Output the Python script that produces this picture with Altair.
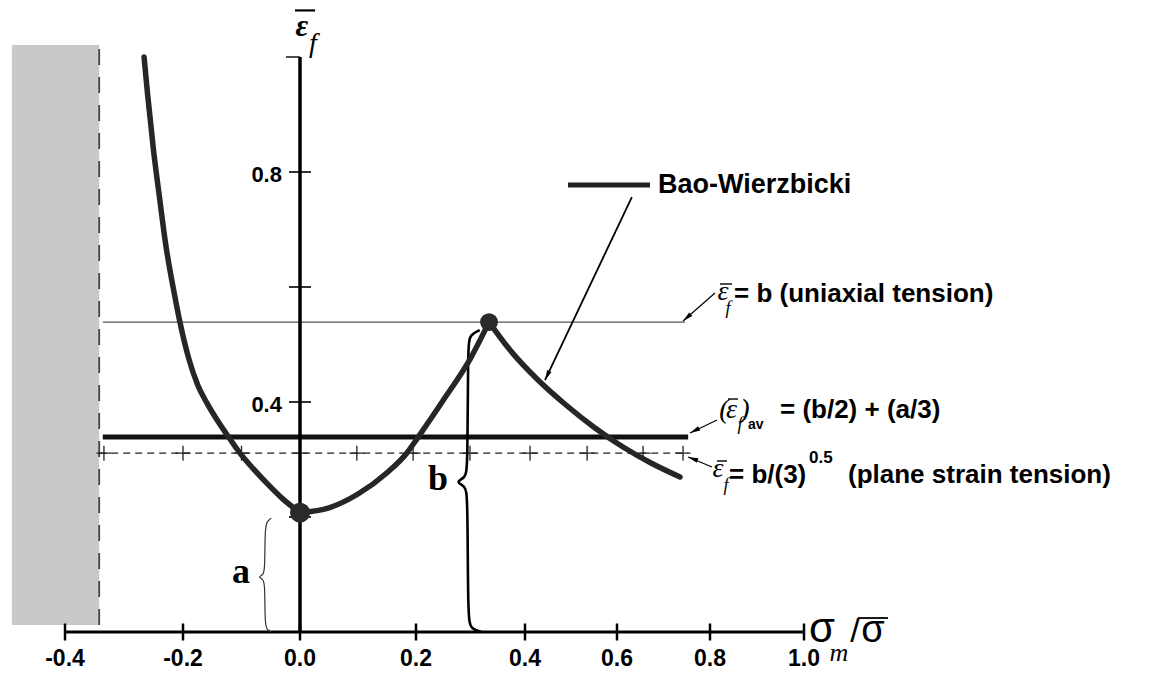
import altair as alt
import pandas as pd

# ---------------- data ----------------
x_ticks = [-0.4, -0.2, 0.0, 0.2, 0.4, 0.6, 0.8, 1.0]
x_tick_labels = ["-0.4", "-0.2", "0.0", "0.2", "0.4", "0.6", "0.8", "1.0"]
y_ticks = [0.2, 0.4, 0.6, 0.8]
y_label_values = [0.4, 0.8]
y_tick_labels = ["0.4", "0.8"]

left_eta = [-0.266, -0.26, -0.25, -0.24, -0.229, -0.215, -0.205, -0.19, -0.175,
            -0.159, -0.14, -0.12, -0.1026, -0.08, -0.056, -0.03, 0.0]
left_eps = [1.0, 0.935, 0.838, 0.757, 0.672, 0.59, 0.538, 0.475, 0.43,
            0.398, 0.366, 0.336, 0.311, 0.284, 0.258, 0.232, 0.2075]
mid_eta = [0.0, 0.05, 0.1, 0.15, 0.184, 0.204, 0.25, 0.3, 0.334]
mid_eps = [0.2075, 0.216, 0.24, 0.277, 0.311, 0.339, 0.403, 0.476, 0.539]
right_eta = [0.334, 0.3725, 0.4283, 0.4891, 0.5522, 0.6129, 0.6731, 0.7355]
right_eps = [0.539, 0.4904, 0.4383, 0.3948, 0.3548, 0.3217, 0.2939, 0.2696]

a_val = 0.2075       # strain at eta = 0
b_val = 0.539        # strain at eta = 1/3 (uniaxial tension)
avg_val = 0.339      # (b/2) + (a/3)
ps_val = 0.311       # b / sqrt(3)
line_start = -0.336
uni_end = 0.746
avg_end = 0.753
ps_end = 0.753
ps_marks = [-0.334, -0.2, -0.1, 0.0, 0.098, 0.195, 0.299, 0.411, 0.535, 0.656, 0.742]

cutoff = -0.342
shade_left, shade_bottom, shade_top = -0.49, 0.012, 1.021

b_brace_x = [0.317, 0.299, 0.295, 0.295, 0.290, 0.272, 0.290, 0.295, 0.295, 0.301, 0.321]
b_brace_y = [0.525, 0.517, 0.499, 0.282, 0.268, 0.261, 0.254, 0.240, 0.021, 0.005, 0.0]
a_brace_x = [-0.049, -0.056, -0.060, -0.060, -0.063, -0.072, -0.063, -0.060, -0.060, -0.056, -0.049]
a_brace_y = [0.198, 0.193, 0.181, 0.108, 0.099, 0.0957, 0.092, 0.0835, 0.012, 0.0035, 0.0]

# arrows: start (x1,y1) -> tip (x2,y2), heading of the tip in degrees
arrow_x1 = [0.632, 0.8106, 0.8150, 0.8043]
arrow_y1 = [0.7565, 0.5896, 0.3687, 0.287]
arrow_x2 = [0.4435, 0.742, 0.757, 0.7527]
arrow_y2 = [0.438, 0.541, 0.346, 0.3043]
arrow_ang = [205, 229, 243, 290]

legend_x, legend_x2, legend_y = 0.4935, 0.671, 0.7774

SANS = "Liberation Sans"
SERIF = "Liberation Serif"

W, H = 1138, 620
x_range = [57, 175, 292, 408, 517, 609, 702, 796]
xs = alt.Scale(domain=x_ticks, range=x_range, nice=False, zero=False)
ys = alt.Scale(domain=[0, H / 575], nice=False, zero=False)


def X():
    return alt.X("x:Q", scale=xs, axis=None)


def Y():
    return alt.Y("y:Q", scale=ys, axis=None)


X2 = alt.X2(field="x2")
Y2 = alt.Y2(field="y2")

layers = []

# shaded excluded region and its dashed border
layers.append(
    alt.Chart(pd.DataFrame({"x": [shade_left], "x2": [cutoff], "y": [shade_bottom], "y2": [shade_top]}))
    .mark_rect(color="#c9c9c9")
    .encode(x=X(), x2=X2, y=Y(), y2=Y2)
)
layers.append(
    alt.Chart(pd.DataFrame({"x": [cutoff], "y": [shade_bottom], "y2": [shade_top]}))
    .mark_rule(color="#444", strokeWidth=1.8, strokeDash=[16, 12])
    .encode(x=X(), y=Y(), y2=Y2)
)

# horizontal reference lines
layers.append(
    alt.Chart(pd.DataFrame({"x": [line_start], "x2": [uni_end], "y": [b_val]}))
    .mark_rule(color="#555", strokeWidth=1.3)
    .encode(x=X(), x2=X2, y=Y())
)
layers.append(
    alt.Chart(pd.DataFrame({"x": [line_start], "x2": [avg_end], "y": [avg_val]}))
    .mark_rule(color="#111", strokeWidth=5)
    .encode(x=X(), x2=X2, y=Y())
)
layers.append(
    alt.Chart(pd.DataFrame({"x": [cutoff], "x2": [ps_end], "y": [ps_val]}))
    .mark_rule(color="#222", strokeWidth=1.3, strokeDash=[7, 5])
    .encode(x=X(), x2=X2, y=Y())
)
layers.append(
    alt.Chart(pd.DataFrame({"x": ps_marks, "y": [ps_val] * len(ps_marks)}))
    .mark_point(shape="M-1,0L1,0M0,-1L0,1", size=225, filled=False, color="#222", strokeWidth=1.3, opacity=1)
    .encode(x=X(), y=Y())
)

# axes (lines, ticks)
layers.append(
    alt.Chart(pd.DataFrame({"x": [x_ticks[0]], "x2": [x_ticks[-1]], "y": [0.0]}))
    .mark_rule(color="black", strokeWidth=3)
    .encode(x=X(), x2=X2, y=Y())
)
layers.append(
    alt.Chart(pd.DataFrame({"x": [0.0], "y": [0.0], "y2": [1.0]}))
    .mark_rule(color="black", strokeWidth=3.5)
    .encode(x=X(), y=Y(), y2=Y2)
)
layers.append(
    alt.Chart(pd.DataFrame({"x": x_ticks, "y": [0.0] * len(x_ticks)}))
    .mark_tick(orient="vertical", size=17, thickness=2.5, color="black", opacity=1)
    .encode(x=X(), y=Y())
)
layers.append(
    alt.Chart(pd.DataFrame({"x": [0.0] * len(y_ticks), "y": y_ticks}))
    .mark_tick(orient="horizontal", size=22, thickness=1.6, color="black", opacity=1)
    .encode(x=X(), y=Y())
)
layers.append(
    alt.Chart(pd.DataFrame({"x": [0.0], "y": [1.0]}))
    .mark_tick(orient="horizontal", size=14, thickness=1.4, color="black", opacity=1, xOffset=-7)
    .encode(x=X(), y=Y())
)

# braces a and b
layers.append(
    alt.Chart(pd.DataFrame({"x": a_brace_x, "y": a_brace_y, "i": list(range(len(a_brace_x)))}))
    .mark_line(color="#333", strokeWidth=1.2, interpolate="basis")
    .encode(x=X(), y=Y(), order=alt.Order(field="i", type="quantitative"))
)
layers.append(
    alt.Chart(pd.DataFrame({"x": b_brace_x, "y": b_brace_y, "i": list(range(len(b_brace_x)))}))
    .mark_line(color="black", strokeWidth=2.6, interpolate="basis")
    .encode(x=X(), y=Y(), order=alt.Order(field="i", type="quantitative"))
)

# fracture locus
curve = pd.DataFrame({
    "x": left_eta + mid_eta + right_eta,
    "y": left_eps + mid_eps + right_eps,
    "seg": ["left"] * len(left_eta) + ["mid"] * len(mid_eta) + ["right"] * len(right_eta),
})
layers.append(
    alt.Chart(curve)
    .mark_line(color="#262626", strokeWidth=5.5, interpolate="monotone", strokeCap="round")
    .encode(x=X(), y=Y(), detail=alt.Detail(field="seg", type="nominal"))
)
layers.append(
    alt.Chart(pd.DataFrame({"x": [0.0, mid_eta[-1]], "y": [a_val, b_val], "s": [400, 320]}))
    .mark_circle(color="#2a2a2a", opacity=1)
    .encode(x=X(), y=Y(), size=alt.Size(field="s", type="quantitative", scale=None))
)

# legend entry
layers.append(
    alt.Chart(pd.DataFrame({"x": [legend_x], "x2": [legend_x2], "y": [legend_y]}))
    .mark_rule(color="#222", strokeWidth=5)
    .encode(x=X(), x2=X2, y=Y())
)

# arrows
arrows = pd.DataFrame({"x": arrow_x1, "y": arrow_y1, "x2": arrow_x2, "y2": arrow_y2,
                       "w": [1.8, 1.2, 1.2, 1.2]})
layers.append(
    alt.Chart(arrows)
    .mark_rule(color="black")
    .encode(x=X(), y=Y(), x2=X2, y2=Y2, strokeWidth=alt.StrokeWidth(field="w", type="quantitative", scale=None))
)
layers.append(
    alt.Chart(pd.DataFrame({"x": arrow_x2, "y": arrow_y2, "ang": arrow_ang}))
    .mark_point(shape="M0,0L0.4,1.7L-0.4,1.7Z", size=144, filled=True, color="black", opacity=1)
    .encode(x=X(), y=Y(), angle=alt.Angle(field="ang", type="quantitative", scale=None))
)

# overlines
over = pd.DataFrame({
    "x": [-0.0085, 0.8213, 0.8383, 0.8149, 1.1149],
    "x2": [0.026, 0.8468, 0.8596, 0.8362, 1.1787],
    "y": [1.081, 0.6052, 0.4052, 0.2974, 0.0243],
    "w": [2.2, 1.4, 1.4, 1.4, 1.8],
})
layers.append(
    alt.Chart(over)
    .mark_rule(color="black")
    .encode(x=X(), x2=X2, y=Y(), strokeWidth=alt.StrokeWidth(field="w", type="quantitative", scale=None))
)


def text_layer(xv, yv, tv, align="left", baseline="alphabetic", font=SANS, size=26,
               weight="bold", style="normal", color="black"):
    df = pd.DataFrame({"x": xv, "y": yv, "t": tv})
    return (
        alt.Chart(df)
        .mark_text(align=align, baseline=baseline, font=font, fontSize=size,
                   fontWeight=weight, fontStyle=style, color=color)
        .encode(x=X(), y=Y(), text=alt.Text(field="t", type="nominal"))
    )


# tick labels
layers.append(text_layer(x_ticks, [-0.0591] * len(x_ticks), x_tick_labels, align="center", size=23))
layers.append(text_layer([-0.0308] * len(y_label_values), [v - 0.018 for v in y_label_values],
                         y_tick_labels, align="right", size=22))

# bold sans annotation texts
layers.append(text_layer([0.8511, 0.9489, 0.8404, 1.0936],
                         [0.5739, 0.3722, 0.2591, 0.2591],
                         ["= b (uniaxial tension)", "= (b/2) + (a/3)", "= b/(3)", "(plane strain tension)"]))
layers.append(text_layer([0.688], [legend_y], ["Bao-Wierzbicki"], baseline="middle", size=27))
layers.append(text_layer([0.8809], [0.353], ["av"], size=14))
layers.append(text_layer([1.0106], [0.2939], ["0.5"], size=17))

# italic serif symbols in the annotations
layers.append(text_layer([0.8277, 0.8457, 0.8170], [0.5774, 0.3722, 0.2696], ["ε", "ε", "ε"],
                         align="center", font=SERIF, size=28, weight="normal", style="italic"))
layers.append(text_layer([0.8383, 0.8638, 0.8340], [0.5530, 0.3513, 0.2450], ["f", "f", "f"],
                         align="center", font=SERIF, size=18, weight="normal", style="italic"))
layers.append(text_layer([0.8298, 0.8745], [0.3722, 0.3722], ["(", ")"],
                         align="center", font=SERIF, size=28, weight="normal", style="italic"))

# a and b labels
layers.append(text_layer([-0.1009, 0.2404], [0.0852, 0.247], ["a", "b"],
                         align="center", font=SERIF, size=36, weight="bold"))

# axis titles
layers.append(text_layer([0.0034], [1.0370], ["ε"], align="center", font=SERIF, size=31,
                         weight="bold", style="italic"))
layers.append(text_layer([0.0224], [1.0087], ["f"], align="center", font=SERIF, size=28,
                         weight="normal", style="italic"))
layers.append(text_layer([1.0383], [-0.0174], ["σ"], align="center", font=SANS, size=42, weight="normal"))
layers.append(text_layer([1.1085], [-0.0174], ["/"], align="center", font=SANS, size=34, weight="normal"))
layers.append(text_layer([1.1468], [-0.0174], ["σ"], align="center", font=SANS, size=38, weight="normal"))
layers.append(text_layer([1.0745], [-0.0505], ["m"], align="center", font=SERIF, size=26,
                         weight="normal", style="italic"))

chart = (
    alt.layer(*layers)
    .properties(
        width=W, height=H,
        autosize=alt.AutoSizeParams(type="none"),
        padding={"left": 0, "top": 4, "right": 0, "bottom": 41},
        background="white",
    )
    .configure_view(stroke=None)
)

chart.save("out.html", embed_options={"renderer": "svg", "actions": False})
